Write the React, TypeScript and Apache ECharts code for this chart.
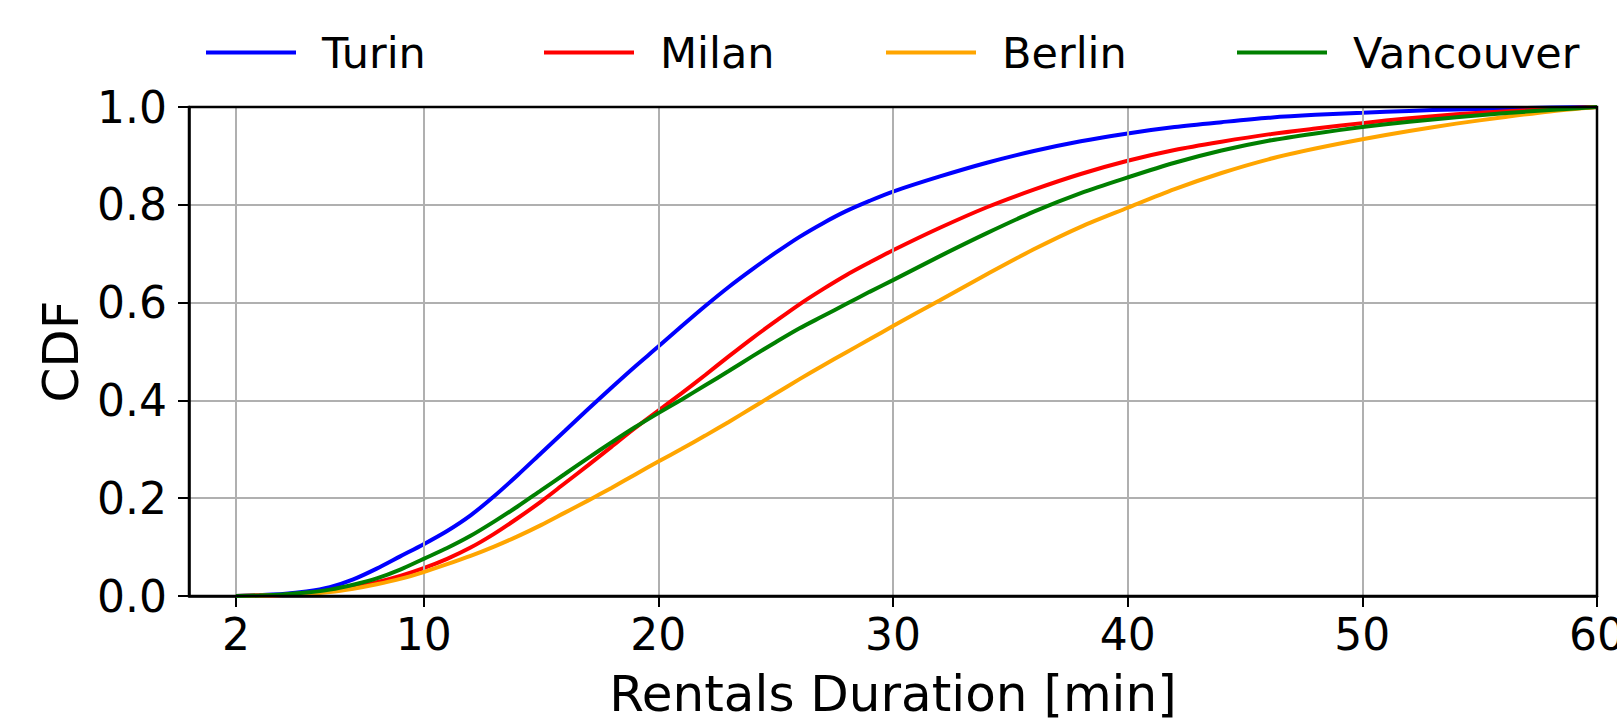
import React, { useEffect, useRef } from 'react';
import * as echarts from 'echarts';

const durations = [2, 3, 4, 5, 6, 7, 8, 9, 10, 11, 12, 13, 14, 15, 16, 17, 18, 19, 20, 21, 22, 23, 24, 25, 26, 27, 28, 29, 30, 32, 34, 36, 38, 40, 42, 44, 46, 48, 50, 52, 54, 56, 58, 60];

const turin = [0, 0.002, 0.004, 0.009, 0.018, 0.034, 0.056, 0.081, 0.106, 0.133, 0.165, 0.204, 0.247, 0.292, 0.337, 0.382, 0.426, 0.469, 0.51, 0.552, 0.593, 0.632, 0.668, 0.702, 0.734, 0.762, 0.787, 0.808, 0.827, 0.858, 0.886, 0.91, 0.93, 0.946, 0.959, 0.969, 0.978, 0.984, 0.988, 0.992, 0.995, 0.997, 0.999, 1.0];

const milan = [0, 0.001, 0.002, 0.005, 0.01, 0.018, 0.028, 0.041, 0.057, 0.076, 0.099, 0.127, 0.159, 0.193, 0.23, 0.267, 0.305, 0.343, 0.379, 0.415, 0.452, 0.49, 0.527, 0.562, 0.596, 0.627, 0.656, 0.682, 0.707, 0.753, 0.795, 0.831, 0.863, 0.89, 0.912, 0.929, 0.944, 0.956, 0.967, 0.977, 0.985, 0.991, 0.996, 1.0];

const berlin = [0, 0.001, 0.002, 0.004, 0.008, 0.015, 0.024, 0.035, 0.049, 0.065, 0.082, 0.101, 0.122, 0.145, 0.17, 0.195, 0.221, 0.248, 0.275, 0.301, 0.328, 0.356, 0.385, 0.414, 0.443, 0.471, 0.498, 0.525, 0.552, 0.605, 0.658, 0.709, 0.755, 0.794, 0.832, 0.865, 0.893, 0.915, 0.934, 0.951, 0.966, 0.979, 0.991, 1.0];

const vancouver = [0, 0.001, 0.003, 0.007, 0.013, 0.023, 0.036, 0.054, 0.076, 0.098, 0.123, 0.152, 0.183, 0.216, 0.249, 0.282, 0.314, 0.345, 0.374, 0.402, 0.431, 0.46, 0.49, 0.519, 0.547, 0.572, 0.597, 0.622, 0.646, 0.695, 0.742, 0.786, 0.824, 0.856, 0.886, 0.911, 0.931, 0.946, 0.959, 0.97, 0.979, 0.987, 0.994, 1.0];

const cities = ['Turin', 'Milan', 'Berlin', 'Vancouver'];
const colors = ['#0000ff', '#ff0000', '#ffa500', '#008000'];
const xTicks = [2, 10, 20, 30, 40, 50, 60];

const FONT = 'DejaVu Sans';
const legendLefts = [204, 542, 884, 1235];

export default function App() {
  const ref = useRef<HTMLDivElement>(null);
  useEffect(() => {
    const chart = echarts.init(ref.current!, null, { renderer: 'svg' });
    const values = [turin, milan, berlin, vancouver];
    const series: any[] = cities.map((name, k) => ({
      name,
      type: 'line',
      data: durations.map((x, i) => [x, values[k][i]]),
      showSymbol: false,
      symbol: 'none',
      smooth: 0.3,
      color: colors[k],
      lineStyle: { width: 4, color: colors[k] },
      z: 3 + k,
    }));
    // vertical grid lines at the custom tick positions
    series.push({
      type: 'line',
      name: '__grid',
      data: [],
      silent: true,
      z: 1,
      markLine: {
        silent: true,
        symbol: ['none', 'none'],
        label: { show: false },
        lineStyle: { color: '#b0b0b0', width: 2, type: 'solid' },
        data: xTicks.map((v) => ({ xAxis: v })),
      },
    });
    const legends = cities.map((name, k) => ({
      data: [name],
      top: 31,
      left: legendLefts[k],
      padding: 0,
      itemWidth: 90,
      itemHeight: 20,
      itemStyle: { opacity: 0 },
      lineStyle: { width: 4, opacity: 1 },
      textStyle: { fontFamily: FONT, fontSize: 43, color: '#000', padding: [0, 0, 0, 21] },
    }));
    chart.setOption({
      animation: false,
      backgroundColor: '#ffffff',
      textStyle: { fontFamily: FONT },
      grid: {
        left: 189,
        right: 20,
        top: 107,
        bottom: 132,
        containLabel: false,
        outerBoundsMode: 'none',
        show: true,
        borderColor: '#000000',
        borderWidth: 2.5,
        backgroundColor: 'transparent',
        z: 10,
      },
      legend: legends,
      xAxis: {
        type: 'value',
        min: 0,
        max: 60,
        interval: 10,
        name: 'Rentals Duration [min]',
        nameLocation: 'middle',
        nameGap: 73,
        nameTextStyle: { fontFamily: FONT, fontSize: 50, color: '#000' },
        axisLine: { show: true, onZero: false, lineStyle: { color: '#000', width: 2.5 } },
        axisTick: { show: true, length: 11, customValues: xTicks, lineStyle: { color: '#000', width: 2 } },
        axisLabel: { customValues: xTicks, fontFamily: FONT, fontSize: 44, color: '#000', margin: 16 },
        splitLine: { show: false },
      },
      yAxis: {
        type: 'value',
        min: 0,
        max: 1,
        interval: 0.2,
        name: 'CDF',
        nameLocation: 'middle',
        nameGap: 94,
        nameTextStyle: { fontFamily: FONT, fontSize: 50, color: '#000' },
        axisLine: { show: true, onZero: false, lineStyle: { color: '#000', width: 2.5 } },
        axisTick: { show: true, length: 11, lineStyle: { color: '#000', width: 2 } },
        axisLabel: {
          fontFamily: FONT,
          fontSize: 44,
          color: '#000',
          margin: 22,
          formatter: (v: number) => v.toFixed(1),
        },
        splitLine: { show: true, lineStyle: { color: '#b0b0b0', width: 2 } },
      },
      series,
    });
    return () => chart.dispose();
  }, []);
  return (
    <div
      ref={ref}
      style={{ position: 'fixed', left: 0, top: 0, width: 1617, height: 728, background: '#fff' }}
    />
  );
}
